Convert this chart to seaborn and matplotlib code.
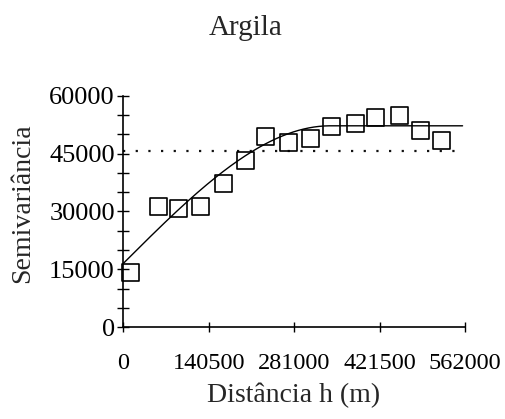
import numpy as np
import pandas as pd
import matplotlib
matplotlib.use("Agg")
import matplotlib.pyplot as plt
import seaborn as sns

lag_m = [11000, 57000, 91000, 126000, 165000, 200000, 234000, 272000,
         307000, 343000, 381000, 415000, 454000, 489000, 524000]
semivariance = [14300, 31200, 30700, 31200, 37300, 43300, 49400, 47800,
                48800, 52100, 52700, 54300, 54900, 51000, 48300]

# Fitted spherical model parameters
nugget = 16600
sill = 52200
model_range = 340000
model_max_h = 558000

# Sample variance (dotted line)
sample_variance = 45600

x_ticks = [0, 140500, 281000, 421500, 562000]
x_tick_labels = ["0", "140500", "281000", "421500", "562000"]
y_ticks = [0, 15000, 30000, 45000, 60000]
y_tick_labels = ["0", "15000", "30000", "45000", "60000"]

title = "Argila"
x_label = "Distância h (m)"
y_label = "Semivariância"

sns.set_style("ticks")
plt.rcParams["font.family"] = ["Liberation Serif", "DejaVu Serif"]

fig = plt.figure(figsize=(5.06, 4.19), dpi=100)
ax = fig.add_axes([123.5 / 506, 1 - 327.3 / 419, (465 - 123.5) / 506, (327.3 - 95.7) / 419])

# model curve
h = np.linspace(0, model_max_h, 400)
hr = np.clip(h / model_range, 0, 1)
gamma = nugget + (sill - nugget) * (1.5 * hr - 0.5 * hr ** 3)
model_df = pd.DataFrame({"h": h, "gamma": gamma})
sns.lineplot(data=model_df, x="h", y="gamma", ax=ax, color="black", linewidth=1.0)

# sample variance line
var_df = pd.DataFrame({"h": [0, 562000], "v": [sample_variance, sample_variance]})
sns.lineplot(data=var_df, x="h", y="v", ax=ax, color="#111111", linewidth=1.6,
             linestyle=(0, (1, 4.7)))

# experimental points
pts = pd.DataFrame({"lag": lag_m, "semivar": semivariance})
sns.scatterplot(data=pts, x="lag", y="semivar", ax=ax, marker="s", s=150,
                facecolor="none", edgecolor="black", linewidth=1.2, clip_on=False, zorder=3)

ax.set_xlim(0, 562000)
ax.set_ylim(0, 60000)
ax.set_xticks(x_ticks)
ax.set_xticklabels(x_tick_labels)
ax.set_yticks(y_ticks)
ax.set_yticklabels(y_tick_labels)
ax.set_yticks(np.arange(0, 60001, 5000), minor=True)

for s in ["top", "right"]:
    ax.spines[s].set_visible(False)
for s in ["left", "bottom"]:
    ax.spines[s].set_color("black")
    ax.spines[s].set_linewidth(1.2)

ax.tick_params(axis="x", which="major", direction="inout", length=7.5, width=1.0,
               labelsize=17.5, pad=15, colors="black")
ax.tick_params(axis="y", which="both", direction="inout", length=8.5, width=1.0,
               labelsize=19, pad=2, colors="black")

ax.set_xlabel("")
ax.set_ylabel("")
fig.text(294 / 506, 1 - 395 / 419, x_label, ha="center", va="center", fontsize=20)
fig.text(23 / 506, 1 - 203 / 419, y_label, ha="center", va="center", rotation=90, fontsize=20)
fig.text(246 / 506, 1 - 28 / 419, title, ha="center", va="center", fontsize=21)

fig.savefig("out.png", dpi=100)
